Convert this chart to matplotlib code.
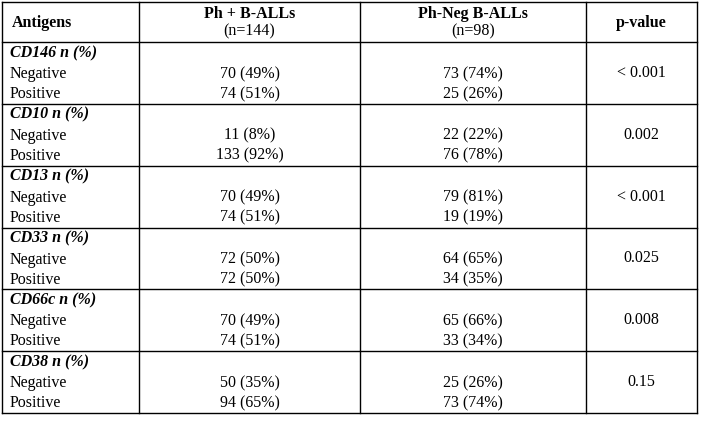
import matplotlib
matplotlib.use("Agg")
import matplotlib.pyplot as plt

antigens = ["CD146 n (%)", "CD10 n (%)", "CD13 n (%)", "CD33 n (%)", "CD66c n (%)", "CD38 n (%)"]
ph_pos_neg = ["70 (49%)", "11 (8%)", "70 (49%)", "72 (50%)", "70 (49%)", "50 (35%)"]
ph_pos_pos = ["74 (51%)", "133 (92%)", "74 (51%)", "72 (50%)", "74 (51%)", "94 (65%)"]
ph_neg_neg = ["73 (74%)", "22 (22%)", "79 (81%)", "64 (65%)", "65 (66%)", "25 (26%)"]
ph_neg_pos = ["25 (26%)", "76 (78%)", "19 (19%)", "34 (35%)", "33 (34%)", "73 (74%)"]
pvalues = ["< 0.001", "0.002", "< 0.001", "0.025", "0.008", "0.15"]

W, H = 702, 421
fig = plt.figure(figsize=(W/100, H/100), dpi=100)
ax = fig.add_axes([0, 0, 1, 1])
ax.set_xlim(0, W); ax.set_ylim(H, 0); ax.axis("off")
plt.rcParams['font.family'] = ['Liberation Serif']
fs = 11.5

cols = [2, 139, 360, 586, 697]
top, hb, bottom = 2, 42, 413
lw = 1.0
for x in cols:
    ax.plot([x, x], [top, bottom], color="black", lw=lw)
ax.plot([cols[0], cols[-1]], [top, top], color="black", lw=lw)
rh = (bottom - hb) / 6
for i in range(7):
    y = hb + i * rh
    ax.plot([cols[0], cols[-1]], [y, y], color="black", lw=lw)

cc = [(cols[i] + cols[i+1]) / 2 for i in range(4)]
ax.text(12, 23, "Antigens", fontsize=fs, fontweight="bold", va="center")
ax.text(cc[1], 14, "Ph + B-ALLs", fontsize=fs, fontweight="bold", ha="center", va="center")
ax.text(cc[1], 31, "(n=144)", fontsize=fs, ha="center", va="center")
ax.text(cc[2], 14, "Ph-Neg B-ALLs", fontsize=fs, fontweight="bold", ha="center", va="center")
ax.text(cc[2], 31, "(n=98)", fontsize=fs, ha="center", va="center")
ax.text(cc[3], 23, "p-value", fontsize=fs, fontweight="bold", ha="center", va="center")

for i in range(6):
    y0 = hb + i * rh
    ax.text(10, y0 + 11, antigens[i], fontsize=fs, fontweight="bold", style="italic", va="center")
    ax.text(10, y0 + 32, "Negative", fontsize=fs, va="center")
    ax.text(10, y0 + 52, "Positive", fontsize=fs, va="center")
    ax.text(cc[1], y0 + 32, ph_pos_neg[i], fontsize=fs, ha="center", va="center")
    ax.text(cc[1], y0 + 52, ph_pos_pos[i], fontsize=fs, ha="center", va="center")
    ax.text(cc[2], y0 + 32, ph_neg_neg[i], fontsize=fs, ha="center", va="center")
    ax.text(cc[2], y0 + 52, ph_neg_pos[i], fontsize=fs, ha="center", va="center")
    ax.text(cc[3], y0 + 31, pvalues[i], fontsize=fs, ha="center", va="center")

fig.savefig("out.png", dpi=100)
